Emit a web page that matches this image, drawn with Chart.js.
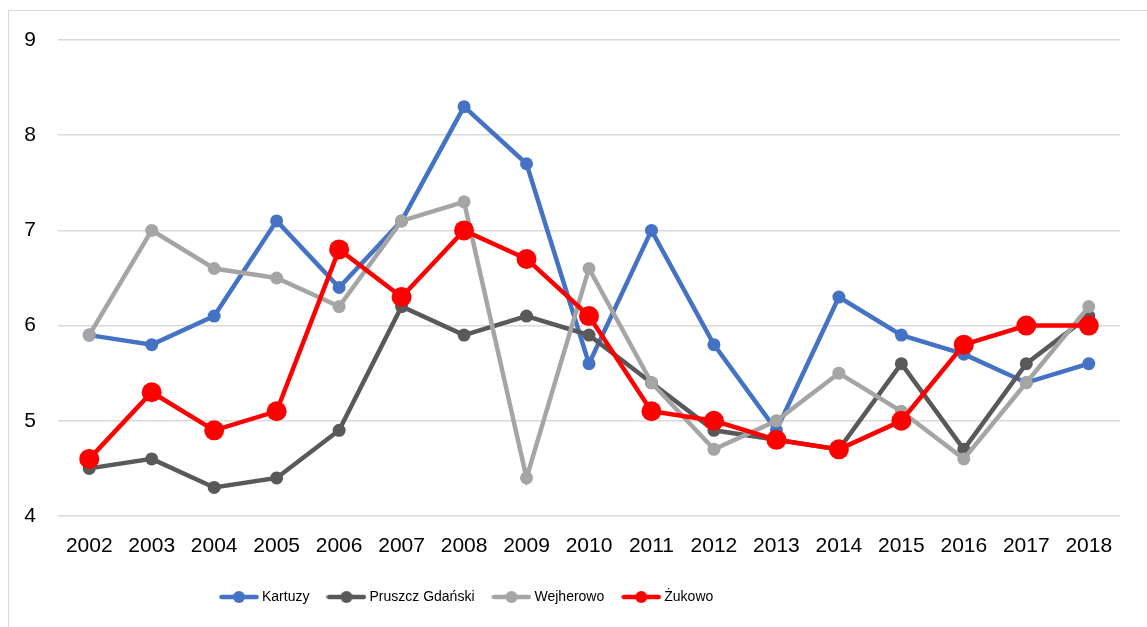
<!DOCTYPE html>
<html>
<head>
<meta charset="utf-8">
<script src="https://cdn.jsdelivr.net/npm/chart.js@4/dist/chart.umd.min.js"></script>
<style>
html, body { margin: 0; padding: 0; background: #fff; overflow: hidden; width: 1147px; height: 627px; }
#frame { position: absolute; left: 8px; top: 10px; width: 1160px; height: 640px; border: 1.5px solid #d9d9d9; box-sizing: border-box; }
#wrap { position: absolute; left: 0; top: 0; width: 1147px; height: 627px; }
</style>
</head>
<body>
<div id="frame"></div>
<div id="wrap"><canvas id="c" width="1147" height="627"></canvas></div>
<script>
// ---- data ----
const years = ['2002','2003','2004','2005','2006','2007','2008','2009','2010','2011','2012','2013','2014','2015','2016','2017','2018'];
const kartuzy   = [5.9, 5.8, 6.1, 7.1, 6.4, 7.1, 8.3, 7.7, 5.6, 7.0, 5.8, 4.9, 6.3, 5.9, 5.7, 5.4, 5.6];
const pruszcz   = [4.5, 4.6, 4.3, 4.4, 4.9, 6.2, 5.9, 6.1, 5.9, 5.4, 4.9, 4.8, 4.7, 5.6, 4.7, 5.6, 6.1];
const wejherowo = [5.9, 7.0, 6.6, 6.5, 6.2, 7.1, 7.3, 4.4, 6.6, 5.4, 4.7, 5.0, 5.5, 5.1, 4.6, 5.4, 6.2];
const zukowo    = [4.6, 5.3, 4.9, 5.1, 6.8, 6.3, 7.0, 6.7, 6.1, 5.1, 5.0, 4.8, 4.7, 5.0, 5.8, 6.0, 6.0];
const seriesNames = ['Kartuzy', 'Pruszcz Gdański', 'Wejherowo', 'Żukowo'];
const yTicks = [4, 5, 6, 7, 8, 9];

// ---- styles ----
const FONT = "'Liberation Sans', Arial, sans-serif";
const colors = ['#4472C4', '#595959', '#A5A5A5', '#FF0000'];

function legendIcon(color, r) {
  const cv = document.createElement('canvas');
  cv.width = 40; cv.height = 14;
  const g = cv.getContext('2d');
  g.strokeStyle = color; g.lineWidth = 4.5; g.lineCap = 'round';
  g.beginPath(); g.moveTo(2.5, 7); g.lineTo(37.5, 7); g.stroke();
  g.fillStyle = color;
  g.beginPath(); g.arc(20, 7, r, 0, Math.PI * 2); g.fill();
  return cv;
}

function makeSet(i, data, radius, order) {
  return {
    label: seriesNames[i],
    data: data,
    borderColor: colors[i],
    backgroundColor: colors[i],
    borderWidth: 4.5,
    pointRadius: radius,
    pointHoverRadius: radius,
    pointBorderWidth: 0,
    pointBackgroundColor: colors[i],
    tension: 0,
    order: order
  };
}

const legendShift = {
  id: 'legendShift',
  afterLayout(chart) {
    const lg = chart.legend;
    if (lg) { lg.left = 202; }
  }
};

new Chart(document.getElementById('c'), {
  type: 'line',
  data: {
    labels: years,
    datasets: [
      makeSet(0, kartuzy, 6.5, 3),
      makeSet(1, pruszcz, 6.5, 2),
      makeSet(2, wejherowo, 6.5, 1),
      makeSet(3, zukowo, 10, 0)
    ]
  },
  plugins: [legendShift],
  options: {
    responsive: false,
    animation: false,
    devicePixelRatio: 1,
    layout: { padding: { left: 8, right: 27, top: 40, bottom: 13 } },
    plugins: {
      tooltip: { enabled: false },
      legend: {
        position: 'bottom',
        align: 'start',
        labels: {
          usePointStyle: true,
          pointStyleWidth: 32,
          padding: 21,
          color: '#000',
          font: { family: FONT, size: 14 },
          generateLabels(chart) {
            return chart.data.datasets.map((ds, i) => ({
              text: ds.label,
              fillStyle: ds.borderColor,
              strokeStyle: ds.borderColor,
              lineWidth: 0,
              pointStyle: legendIcon(ds.borderColor, 6),
              datasetIndex: i,
              hidden: false,
              fontColor: '#000'
            }));
          }
        }
      }
    },
    scales: {
      x: {
        offset: true,
        grid: { display: false, drawTicks: false },
        border: { display: false },
        ticks: { color: '#000', font: { family: FONT, size: 21 }, padding: 18, maxRotation: 0, autoSkip: false },
        afterFit(s) { s.height = 53; }
      },
      y: {
        min: 4,
        max: 9,
        afterBuildTicks(s) { s.ticks = yTicks.map(v => ({ value: v })); },
        grid: { color: '#d9d9d9', lineWidth: 1.5, drawTicks: false },
        border: { display: false },
        ticks: { color: '#000', font: { family: FONT, size: 21 }, padding: 22 },
        afterFit(s) { s.width = 50; }
      }
    }
  }
});
</script>
</body>
</html>
